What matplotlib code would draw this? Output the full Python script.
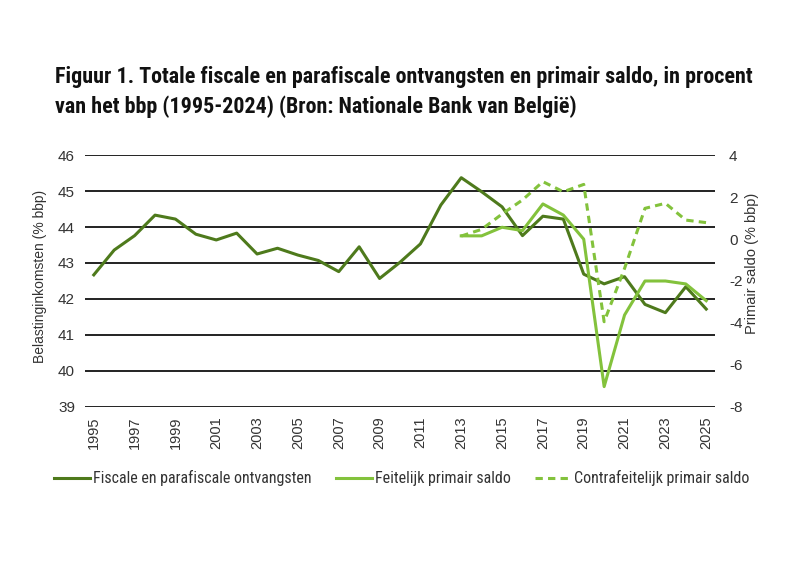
import matplotlib
matplotlib.use("Agg")
import matplotlib.pyplot as plt
from matplotlib import font_manager

# data
years = list(range(1995, 2026))
ontvangsten = [42.67, 43.36, 43.76, 44.33, 44.22, 43.80, 43.64, 43.83, 43.25, 43.41,
               43.22, 43.07, 42.76, 43.45, 42.57, 43.02, 43.53, 44.61, 45.37, 44.98,
               44.56, 43.76, 44.30, 44.22, 42.69, 42.42, 42.62, 41.85, 41.62, 42.34,
               41.72]
saldo_years = list(range(2013, 2026))
feitelijk = [0.15, 0.15, 0.56, 0.40, 1.67, 1.14, -0.01, -7.03, -3.62, -2.0, -2.0, -2.14, -2.94]
contrafeitelijk = [0.14, 0.46, 1.19, 1.86, 2.73, 2.25, 2.60, -3.94, -1.40, 1.46, 1.70, 0.90, 0.78]

left_ticks = [39, 40, 41, 42, 43, 44, 45, 46]
right_ticks = [4, 2, 0, -2, -4, -6, -8]
year_ticks = list(range(1995, 2026, 2))

title1 = 'Figuur 1. Totale fiscale en parafiscale ontvangsten en primair saldo, in procent'
title2 = 'van het bbp (1995-2024) (Bron: Nationale Bank van België)'
legend_labels = ['Fiscale en parafiscale ontvangsten', 'Feitelijk primair saldo',
                 'Contrafeitelijk primair saldo']

dark = '#4e7a1c'
light = '#83c23c'

# pick a narrow font if one is installed
installed = {f.name for f in font_manager.fontManager.ttflist}
narrow = 'DejaVu Sans'
for cand in ['Roboto Condensed', 'Liberation Sans Narrow', 'Open Sans Condensed',
             'DejaVu Sans Condensed', 'Roboto']:
    if cand in installed:
        narrow = cand
        break
plt.rcParams['font.family'] = ['Liberation Sans', 'DejaVu Sans']

fig = plt.figure(figsize=(8, 5.72), dpi=100)
ax = fig.add_axes([0.106, 0.2885, 0.788, 0.4405])
ax2 = ax.twinx()

l1, = ax.plot(years, ontvangsten, color=dark, lw=2.2)
l2, = ax2.plot(saldo_years, feitelijk, color=light, lw=2.2)
l3, = ax2.plot(saldo_years, contrafeitelijk, color=light, lw=2.2, linestyle=(0, (2.4, 1.7)))

ax.set_xlim(1994.56, 2025.44)
ax.set_ylim(39, 46)
ax2.set_ylim(-8, 4)
ax.set_yticks(left_ticks)
ax.set_yticklabels([str(t) for t in left_ticks], fontsize=11, color='#333333')
ax2.set_yticks(right_ticks)
ax2.set_yticklabels([str(t) for t in right_ticks], fontsize=11, color='#333333')
ax.set_xticks(year_ticks)
ax.set_xticklabels([str(y) for y in year_ticks], rotation=90, fontsize=10.5, color='#333333')

ax.grid(axis='y', color='#111111', lw=1.3)
ax.set_axisbelow(True)
for a in (ax, ax2):
    for s in a.spines.values():
        s.set_visible(False)
    a.tick_params(length=0)
ax.tick_params(axis='y', pad=7)
ax2.tick_params(axis='y', pad=10)
ax.tick_params(axis='x', pad=7)

fig.text(0.05, 0.516, 'Belastinginkomsten (% bbp)', rotation=90, ha='center', va='center',
         fontsize=10, color='#333333')
fig.text(0.94, 0.54, 'Primair saldo (% bbp)', rotation=90, ha='center', va='center',
         fontsize=10.5, color='#333333')

t1 = fig.text(0.069, 0.8549, title1, ha='left', va='baseline', fontsize=15.5,
              fontweight='bold', family=narrow, color='#111111')
t2 = fig.text(0.069, 0.8024, title2, ha='left', va='baseline', fontsize=15.5,
              fontweight='bold', family=narrow, color='#111111')

leg = fig.legend([l1, l2, l3], legend_labels,
                 loc='center', bbox_to_anchor=(0.502, 0.164), ncol=3, frameon=False,
                 handlelength=2.25, handletextpad=0.2, columnspacing=1.5,
                 prop={'family': narrow, 'size': 11.5}, labelcolor='#333333')

# scale the title so its first line spans the same width as in the reference
renderer = fig.canvas.get_renderer()
w = t1.get_window_extent(renderer).width
size = 15.5 * 693 / w
t1.set_fontsize(size)
t2.set_fontsize(size)

fig.savefig('out.png', dpi=100)
